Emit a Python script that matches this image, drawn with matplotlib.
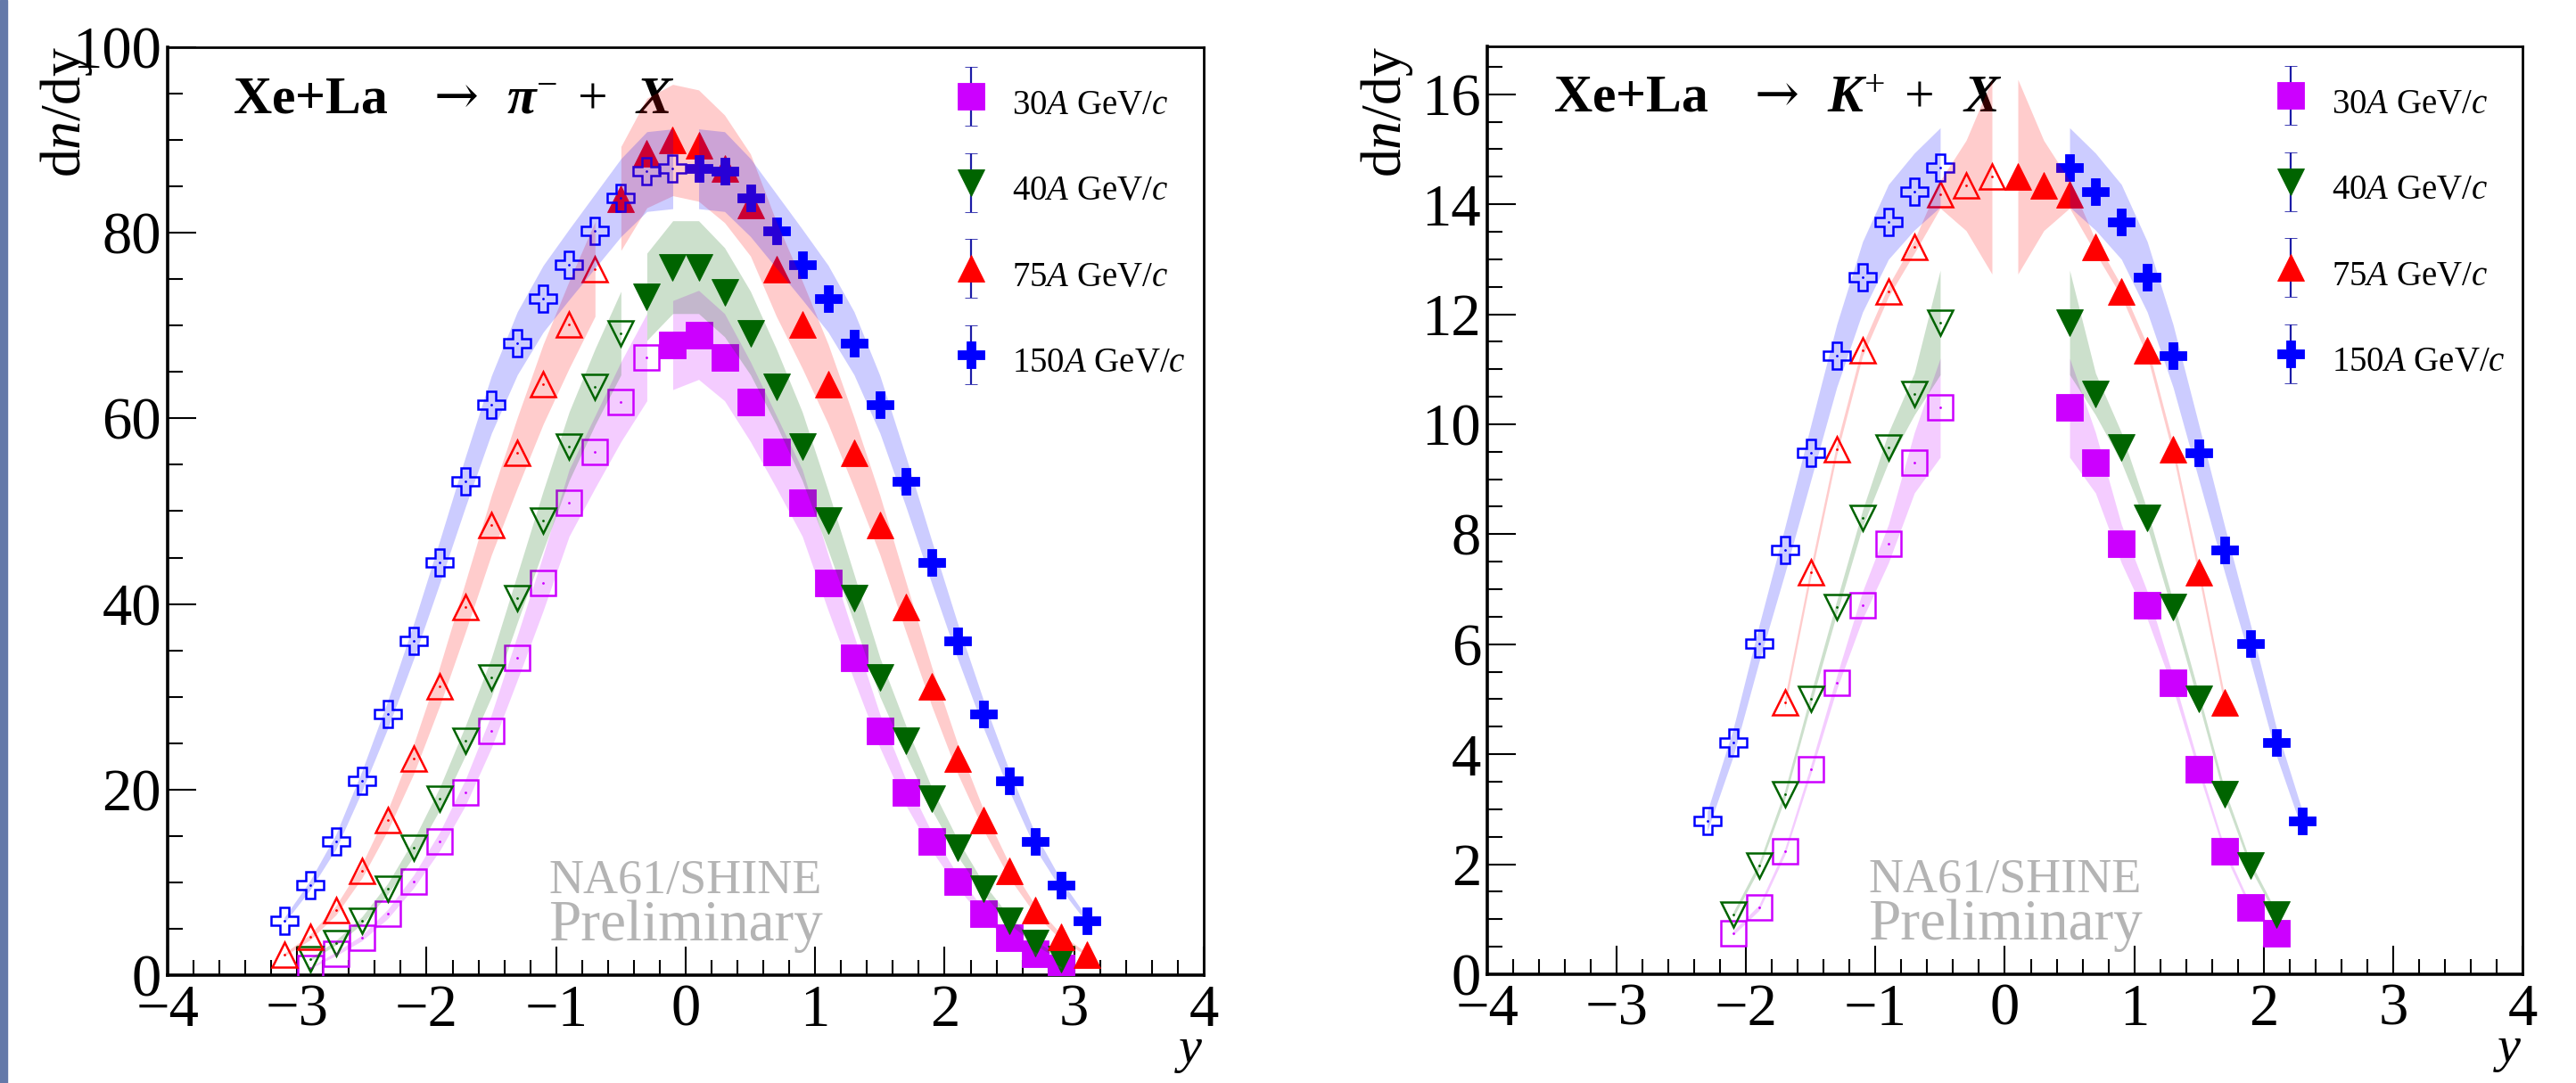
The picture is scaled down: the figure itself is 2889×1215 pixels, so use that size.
import numpy as np
import matplotlib
matplotlib.use('Agg')
import matplotlib.pyplot as plt
from matplotlib.ticker import MultipleLocator
from matplotlib.patches import Rectangle
from matplotlib.container import ErrorbarContainer
from matplotlib.legend_handler import HandlerErrorbar

plt.rcParams['font.family'] = 'Liberation Serif'
plt.rcParams['mathtext.fontset'] = 'custom'
plt.rcParams['mathtext.rm'] = 'Liberation Serif'
plt.rcParams['mathtext.it'] = 'Liberation Serif:italic'
plt.rcParams['mathtext.bf'] = 'Liberation Serif:bold'
plt.rcParams['mathtext.sf'] = 'DejaVu Serif'
try:
    plt.rcParams['mathtext.bfit'] = 'Liberation Serif:bold:italic'
    BFIT = r'\mathbfit'
except KeyError:
    BFIT = r'\mathbf'

# ---- pi- : measured points (rapidity, dn/dy, systematic half width)
pi_y30 = [-0.1, 0.1, 0.3, 0.5, 0.7, 0.9, 1.1, 1.3, 1.5, 1.7, 1.9, 2.1, 2.3, 2.5, 2.7, 2.9]
pi_30 = [67.9, 69.0, 66.6, 61.8, 56.4, 50.9, 42.3, 34.2, 26.3, 19.7, 14.4, 10.1, 6.6, 4.0, 2.3, 0.8]
pi_sys30 = [4.8, 4.8, 4.7, 4.3, 3.9, 3.6, 3.0, 2.4, 1.8, 1.4, 1.0, 0.7, 0.5, 0.3, 0.2, 0.1]

pi_y40 = [-0.3, -0.1, 0.1, 0.3, 0.5, 0.7, 0.9, 1.1, 1.3, 1.5, 1.7, 1.9, 2.1, 2.3, 2.5, 2.7, 2.9]
pi_40 = [73.1, 76.3, 76.3, 73.6, 69.2, 63.4, 57.0, 49.0, 40.6, 32.1, 25.3, 19.0, 13.7, 9.3, 5.9, 3.5, 1.7]
pi_sys40 = [4.7, 5.0, 5.0, 4.8, 4.5, 4.1, 3.7, 3.2, 2.6, 2.1, 1.6, 1.2, 0.9, 0.6, 0.4, 0.25, 0.15]

pi_y75 = [-0.5, -0.3, -0.1, 0.1, 0.3, 0.5, 0.7, 0.9, 1.1, 1.3, 1.5, 1.7, 1.9, 2.1, 2.3, 2.5, 2.7, 2.9, 3.1]
pi_75 = [83.7, 88.6, 90.0, 89.4, 86.9, 83.0, 76.1, 70.1, 63.7, 56.3, 48.5, 39.7, 31.1, 23.3, 16.7, 11.2, 7.0, 4.1, 2.2]
pi_sys75 = [5.6, 5.9, 6.0, 6.0, 5.8, 5.5, 5.1, 4.7, 4.3, 3.8, 3.2, 2.7, 2.1, 1.6, 1.1, 0.75, 0.5, 0.3, 0.15]

pi_y150 = [0.1, 0.3, 0.5, 0.7, 0.9, 1.1, 1.3, 1.5, 1.7, 1.9, 2.1, 2.3, 2.5, 2.7, 2.9, 3.1]
pi_150 = [86.9, 86.6, 83.8, 80.2, 76.6, 72.9, 68.1, 61.5, 53.2, 44.5, 36.0, 28.1, 20.9, 14.4, 9.7, 5.9]
pi_sys150 = [4.3, 4.3, 4.2, 4.0, 3.8, 3.6, 3.4, 3.1, 2.7, 2.3, 1.9, 1.5, 1.1, 0.8, 0.5, 0.3]

# smallest rapidity that is reflected to y<0 (open markers)
pi_refl_min = [0.3, 0.5, 0.7, 0.1]

# ---- K+
k_y30 = [0.5, 0.7, 0.9, 1.1, 1.3, 1.5, 1.7, 1.9, 2.1]
k_30 = [10.30, 9.30, 7.83, 6.71, 5.30, 3.72, 2.23, 1.21, 0.75]
k_sys30 = [0.9, 0.55, 0.35, 0.25, 0.12, 0.08, 0.06, 0.05, 0.04]

k_y40 = [0.5, 0.7, 0.9, 1.1, 1.3, 1.5, 1.7, 1.9, 2.1]
k_40 = [11.85, 10.55, 9.58, 8.29, 6.67, 5.00, 3.27, 1.97, 1.08]
k_sys40 = [0.95, 0.38, 0.27, 0.15, 0.12, 0.10, 0.08, 0.06, 0.05]

k_y75 = [0.1, 0.3, 0.5, 0.7, 0.9, 1.1, 1.3, 1.5, 1.7]
k_75 = [14.50, 14.34, 14.18, 13.23, 12.42, 11.34, 9.54, 7.31, 4.94]
k_sys75 = [1.77, 0.82, 0.25, 0.12, 0.10, 0.10, 0.10, 0.10, 0.10]

k_y150 = [0.5, 0.7, 0.9, 1.1, 1.3, 1.5, 1.7, 1.9, 2.1, 2.3]
k_150 = [14.67, 14.23, 13.68, 12.68, 11.24, 9.48, 7.71, 6.01, 4.21, 2.78]
k_sys150 = [0.72, 0.70, 0.68, 0.64, 0.57, 0.50, 0.42, 0.33, 0.25, 0.18]

k_refl_min = [0.5, 0.5, 0.1, 0.5]

labels = ['30$A$ GeV/$c$', '40$A$ GeV/$c$', '75$A$ GeV/$c$', '150$A$ GeV/$c$']
colors = ['#cc00ff', '#006400', '#ff0000', '#0000ff']
markers = ['s', 'v', '^', 'P']
msizes = [21, 21, 21, 22]


def draw_panel(ax, ys, vals, syss, refl_min):
    for i in range(4):
        y = np.array(ys[i])
        v = np.array(vals[i])
        s = np.array(syss[i])
        c = colors[i]
        m = y >= refl_min[i] - 1e-6
        ax.plot(y, v, ls='none', marker=markers[i], ms=msizes[i], color=c,
                mec=c, mew=0.6, zorder=3)
        ax.plot(-y[m], v[m], ls='none', marker=markers[i], ms=msizes[i] - 1,
                mfc='none', mec=c, mew=1.8, zorder=3)
        ax.plot(-y[m], v[m], ls='none', marker='.', ms=2, color=c, zorder=3)
        # systematic bands
        ax.fill_between(y, v - s, v + s, color=c, alpha=0.2, lw=0, zorder=4)
        ax.fill_between(-y[m], v[m] - s[m], v[m] + s[m], color=c, alpha=0.2,
                        lw=0, zorder=4)


def style_axes(ax, ymax, ymajor, yminor):
    ax.set_xlim(-4, 4)
    ax.set_ylim(0, ymax)
    ax.xaxis.set_major_locator(MultipleLocator(1))
    ax.xaxis.set_minor_locator(MultipleLocator(0.2))
    ax.yaxis.set_major_locator(MultipleLocator(ymajor))
    ax.yaxis.set_minor_locator(MultipleLocator(yminor))
    ax.tick_params(which='both', direction='in', top=False, right=False,
                   labelsize=48, width=1.5)
    ax.tick_params(which='major', length=23)
    ax.tick_params(which='minor', length=12)
    ax.tick_params(axis='x', pad=7)
    ax.tick_params(axis='y', pad=5)
    for sp in ['left', 'bottom']:
        ax.spines[sp].set_linewidth(2.6)
    for sp in ['top', 'right']:
        ax.spines[sp].set_linewidth(2.0)
    ax.set_xlabel('$y$', loc='right', fontsize=42)
    ax.xaxis.set_label_coords(1.0, -0.058)


def add_legend(ax):
    hs = []
    for i in range(4):
        h = ax.errorbar([np.nan], [np.nan], yerr=[1.0], fmt=markers[i],
                        ms=msizes[i], color=colors[i], mec=colors[i], mew=0.6,
                        ecolor='#1c1ca6', elinewidth=1.6, capsize=5,
                        capthick=1.6, label=labels[i])
        hs.append(h)
    ax.legend(handles=hs, loc='upper left', bbox_to_anchor=(0.759, 0.9655),
              frameon=False, fontsize=28, handlelength=1.0, handleheight=1.7,
              handletextpad=0.68, labelspacing=1.13, borderpad=0,
              borderaxespad=0,
              handler_map={ErrorbarContainer: HandlerErrorbar(yerr_size=0.85)})


fig = plt.figure(figsize=(28.89, 12.15), dpi=100)
fig.patches.append(Rectangle((0, 0), 8 / 2889, 1, transform=fig.transFigure,
                             color='#6479a9', zorder=0))

ax1 = fig.add_axes([0.06507, 0.09959, 0.40222, 0.85679])
ax2 = fig.add_axes([0.57736, 0.10041, 0.40187, 0.85679])

draw_panel(ax1, [pi_y30, pi_y40, pi_y75, pi_y150],
           [pi_30, pi_40, pi_75, pi_150],
           [pi_sys30, pi_sys40, pi_sys75, pi_sys150], pi_refl_min)
draw_panel(ax2, [k_y30, k_y40, k_y75, k_y150],
           [k_30, k_40, k_75, k_150],
           [k_sys30, k_sys40, k_sys75, k_sys150], k_refl_min)

style_axes(ax1, 100, 20, 5)
style_axes(ax2, 16.87, 2, 0.5)
add_legend(ax1)
add_legend(ax2)

title_pi = (r'$\mathbf{Xe{+}La}\quad\mathsf{\rightarrow}\;\;' + BFIT
            + r'{\pi}^{-}\;+\;\;' + BFIT + r'{X}$')
title_k = (r'$\mathbf{Xe{+}La}\quad\mathsf{\rightarrow}\;\;' + BFIT
           + r'{K}^{+}\;+\;\;' + BFIT + r'{X}$')
ax1.text(0.063, 0.929, title_pi, transform=ax1.transAxes, ha='left',
         va='baseline', fontsize=43)
ax2.text(0.064, 0.929, title_k, transform=ax2.transAxes, ha='left',
         va='baseline', fontsize=43)

for ax in (ax1, ax2):
    ax.text(0.5, 0.088, 'NA61/SHINE', transform=ax.transAxes, ha='center',
            va='baseline', color='#b4b4b4', fontsize=39)
    ax.text(0.5, 0.037, 'Preliminary', transform=ax.transAxes, ha='center',
            va='baseline', color='#b4b4b4', fontsize=47)

ylab = r'd$n$/dy'
fig.text(75 / 2889, 1 - 52 / 1215, ylab, rotation=90, ha='center', va='top',
         fontsize=46)
fig.text(1555 / 2889, 1 - 52 / 1215, ylab, rotation=90, ha='center', va='top',
         fontsize=46)

fig.savefig('out.png', dpi=100)
